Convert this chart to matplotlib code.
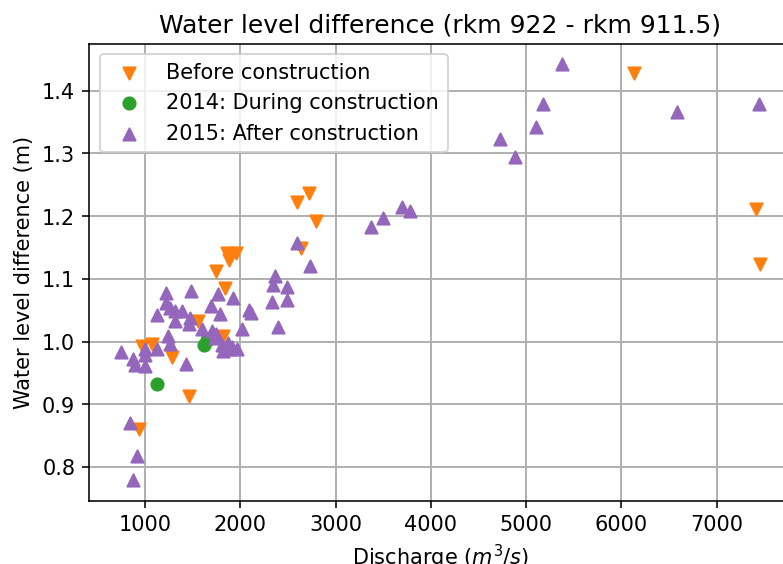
import matplotlib
matplotlib.use("Agg")
import matplotlib.pyplot as plt

# before construction
before_q = [940, 965, 1070, 1284, 1465, 1560, 1746, 1837, 1816, 1860, 1960, 1886,
            2600, 2723, 2793, 2635, 6137, 7413, 7450]
before_dh = [0.861, 0.993, 0.996, 0.975, 0.914, 1.033, 1.113, 1.086, 1.009, 1.141, 1.141, 1.130,
             1.222, 1.237, 1.193, 1.149, 1.429, 1.212, 1.124]

# 2014 during construction
during_q = [1123, 1620, 1650]
during_dh = [0.933, 0.995, 1.002]

# 2015 after construction
after_q = [748, 842, 877, 919, 877, 890, 1000, 1000, 1005, 1123, 1123, 1221, 1221, 1263,
           1315, 1385, 1315, 1245, 1263, 1431, 1473, 1465, 1480, 1595, 1690, 1700, 1746,
           1730, 1770, 1788, 1805, 1822, 1850, 1875, 1893, 1910, 1921, 1963, 2016, 2095,
           2113, 2331, 2341, 2366, 2400, 2488, 2488, 2593, 2733, 3371, 3497, 3693, 3784,
           4722, 4887, 5107, 5173, 5377, 6581, 7442]
after_dh = [0.983, 0.870, 0.779, 0.818, 0.972, 0.963, 0.988, 0.978, 0.961, 0.988, 1.042, 1.078,
            1.061, 1.053, 1.049, 1.049, 1.033, 1.009, 0.996, 0.964, 1.038, 1.028, 1.081, 1.020,
            1.057, 1.017, 1.012, 1.006, 1.076, 1.044, 0.994, 0.985, 0.990, 0.998, 0.988, 0.992,
            1.070, 0.988, 1.020, 1.050, 1.046, 1.063, 1.090, 1.104, 1.024, 1.087, 1.067, 1.157,
            1.120, 1.182, 1.197, 1.214, 1.209, 1.323, 1.294, 1.342, 1.379, 1.442, 1.366, 1.379]

plt.rcParams['font.size'] = 10.6
plt.rcParams['axes.titlesize'] = 12.7
plt.rcParams['grid.linewidth'] = 1.0

dpi = 142
fig = plt.figure(figsize=(783.4 / dpi, 564.4 / dpi), dpi=dpi)
ax = fig.add_axes([0.1137, 0.1117, 0.8966, 0.8103])

ax.scatter(before_q, before_dh, s=38, marker="v", color="tab:orange", label="Before construction")
ax.scatter(during_q, during_dh, s=38, marker="o", color="tab:green", label="2014: During construction")
ax.scatter(after_q, after_dh, s=38, marker="^", color="tab:purple", label="2015: After construction")

ax.grid(True)
ax.set_axisbelow(True)
ax.set_title("Water level difference (rkm 922 - rkm 911.5)")
ax.set_xlabel("Discharge ($m^3/s$)")
ax.set_ylabel("Water level difference (m)")
ax.legend(loc="upper left")

fig.savefig("out.png", dpi=dpi)
